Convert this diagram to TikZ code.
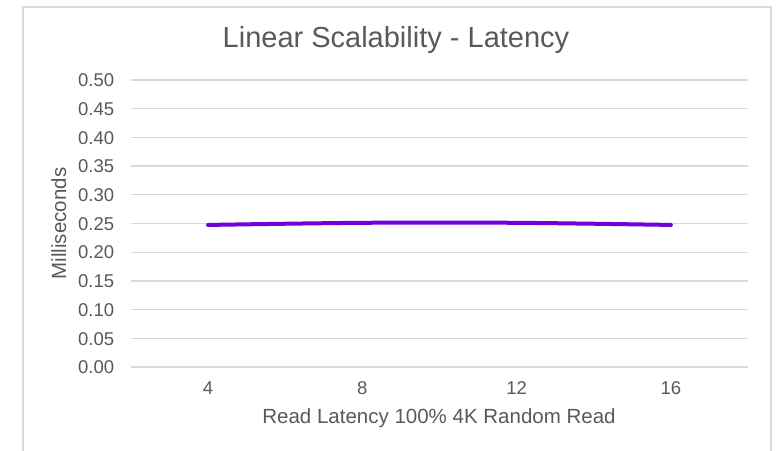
\documentclass[tikz,border=0pt]{standalone}
\usepackage{fontspec}
\setmainfont{Liberation Sans}
\definecolor{gridgray}{HTML}{D9D9D9}
\definecolor{txtgray}{HTML}{595959}
\definecolor{serieslin}{RGB}{112,0,220}
\begin{document}
\begin{tikzpicture}[x=1bp,y=-1bp,
  gridline/.style={draw=gridgray,line width=1.3bp},
  frameline/.style={draw=gridgray,line width=1.5bp},
  ticklbl/.style={inner sep=0pt,text=txtgray,font=\fontsize{18.5bp}{20bp}\selectfont},
  axtitle/.style={inner sep=0pt,text=txtgray,font=\fontsize{20.5bp}{22bp}\selectfont},
  charttitle/.style={inner sep=0pt,text=txtgray,font=\fontsize{29bp}{32bp}\selectfont},
  serie/.style={draw=serieslin,line width=4bp,line cap=round,line join=round}]
\useasboundingbox (0,0) rectangle (782,451);
% frame
\coordinate (fbl) at (23,452);
\coordinate (ftl) at (23,7);
\coordinate (ftr) at (771,7);
\coordinate (fbr) at (771,452);
\draw[frameline] (fbl) -- (ftl) -- (ftr) -- (fbr);
% gridlines and y tick labels
\foreach \i/\lab in {0/0.00,1/0.05,2/0.10,3/0.15,4/0.20,5/0.25,6/0.30,7/0.35,8/0.40,9/0.45,10/0.50}{
  \pgfmathsetmacro{\yy}{367-28.7*\i}
  \coordinate (gl\i) at (131,\yy);
  \coordinate (gr\i) at (748,\yy);
  \draw[gridline] (gl\i) -- (gr\i);
  \node[ticklbl,anchor=east] (yl\i) at (114.3,\yy+0.4) {\lab};
}
% x tick labels
\foreach \i/\lab in {0/4,1/8,2/12,3/16}{
  \pgfmathsetmacro{\xx}{131+154.25*(\i+0.5)}
  \node[ticklbl,anchor=base] (xl\i) at (\xx,394) {\lab};
}
% data points
\coordinate (p0) at (208.1,{367-0.2475*574});
\coordinate (p1) at (362.4,{367-0.2512*574});
\coordinate (p2) at (516.6,{367-0.2512*574});
\coordinate (p3) at (670.9,{367-0.2475*574});
\draw[serie] plot[smooth,tension=0.5] coordinates {(p0) (p1) (p2) (p3)};
% titles
\node[charttitle,anchor=base] (title) at (396,48) {Linear Scalability - Latency};
\node[axtitle,anchor=base] (xtitle) at (439,423) {Read Latency 100\% 4K Random Read};
\node[axtitle,anchor=base,rotate=90] (ytitle) at (66,223.5) {Milliseconds};
\end{tikzpicture}
\end{document}
